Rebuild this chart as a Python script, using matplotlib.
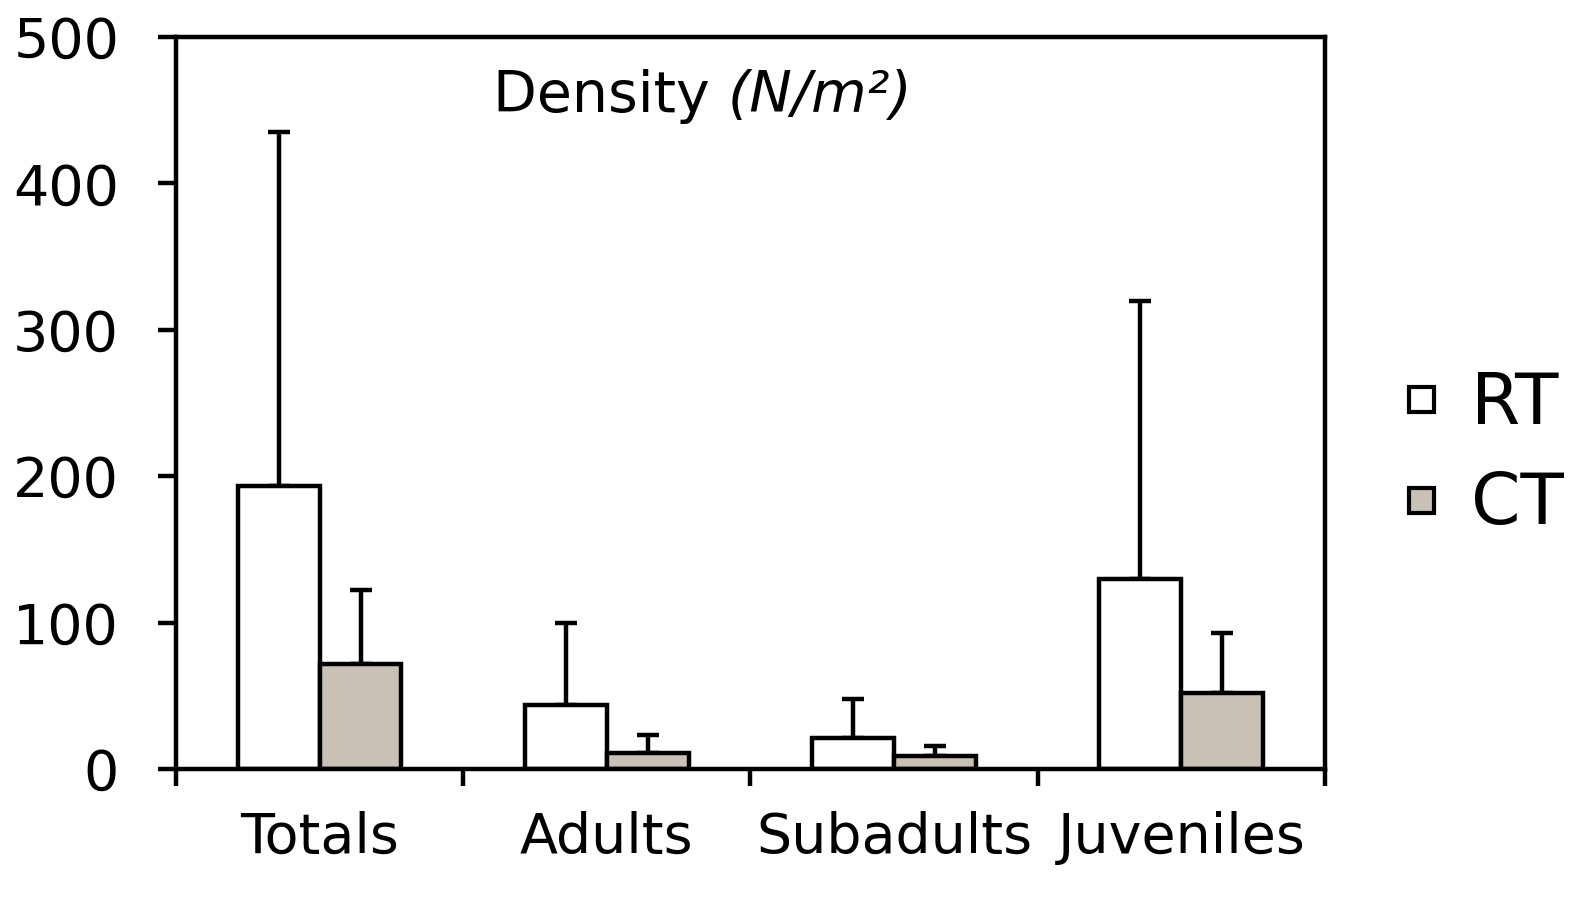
import numpy as np
import matplotlib
matplotlib.use("Agg")
import matplotlib.pyplot as plt
from matplotlib.lines import Line2D

categories = ["Totals", "Adults", "Subadults", "Juveniles"]
rt_mean = [193, 44, 21, 130]
rt_upper = [435, 100, 48, 320]
ct_mean = [72, 11, 9, 52]
ct_upper = [122, 23, 16, 93]
series = ["RT", "CT"]
colors = ["white", "#c9c1b5"]

plt.rcParams["font.family"] = ["DejaVu Sans"]

fig = plt.figure(figsize=(15.9, 9.09), dpi=100)
ax = fig.add_axes([0.1107, 0.154, 0.7226, 0.8053])

x = np.arange(len(categories))
w = 0.285
lw = 3.2
for k, (mean, upper) in enumerate([(rt_mean, rt_upper), (ct_mean, ct_upper)]):
    mean = np.array(mean)
    err = np.array(upper) - mean
    pos = x + (k - 0.5) * w
    ax.bar(pos, mean, width=w, color=colors[k], edgecolor="black",
           linewidth=lw, zorder=2)
    ax.errorbar(pos, mean, yerr=[np.zeros_like(err), err], fmt="none",
                ecolor="black", elinewidth=lw, capsize=8, capthick=lw, zorder=1)

ax.set_xlim(-0.5, len(categories) - 0.5)
ax.set_ylim(0, 500)
ax.set_yticks(np.arange(0, 501, 100))
ax.set_xticks(np.arange(-0.5, len(categories), 1.0))
ax.set_xticklabels([])
ax.set_xticks(x, minor=True)
ax.set_xticklabels(categories, minor=True)
ax.tick_params(axis="x", which="minor", length=0, pad=30, labelsize=40)
ax.tick_params(axis="x", which="major", length=12, width=lw)
ax.tick_params(axis="y", length=13, width=lw, pad=28, labelsize=40)
for s in ax.spines.values():
    s.set_linewidth(lw)

t1 = ax.text(0.276, 0.8975, "Density ", transform=ax.transAxes,
             fontsize=41, va="baseline", ha="left")
ax.annotate("(N/m²)", xy=(1, 0), xycoords=t1, fontsize=41,
            style="italic", va="bottom", ha="left")

handles = [Line2D([], [], marker="s", linestyle="none", markersize=18,
                  markerfacecolor=c, markeredgecolor="black",
                  markeredgewidth=3) for c in colors]
fig.legend(handles, series, loc="center left", bbox_to_anchor=(0.836, 0.5),
           frameon=False, fontsize=51, handletextpad=0.3, labelspacing=0.45,
           handlelength=0.8)

fig.savefig("out.png", dpi=100)
